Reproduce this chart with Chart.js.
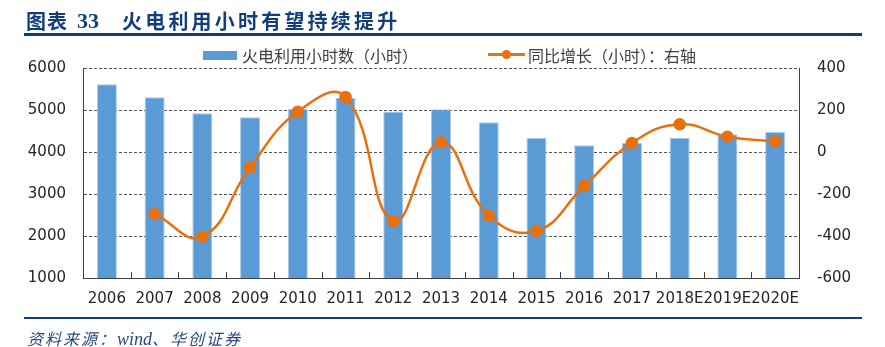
<!DOCTYPE html>
<html><head><meta charset="utf-8">
<script src="https://cdn.jsdelivr.net/npm/chart.js@4/dist/chart.umd.min.js"></script>
<style>
html,body{margin:0;padding:0;background:#fff;width:885px;height:347px;overflow:hidden;position:relative}
.abs{position:absolute;white-space:nowrap}
</style></head>
<body>
<canvas id="c" width="885" height="347" class="abs" style="left:0;top:0"></canvas>
<div class="abs" style="left:26px;top:11px;font:700 20px/20px 'Noto Sans CJK SC';color:#123f7c;letter-spacing:1px">图表</div>
<div class="abs" style="left:77px;top:10px;font:700 22px/22px 'Liberation Serif';color:#123f7c">33</div>
<div class="abs" style="left:122px;top:11px;font:700 20px/20px 'Noto Sans CJK SC';color:#123f7c;letter-spacing:3.2px">火电利用小时有望持续提升</div>
<div class="abs" style="left:24px;top:33px;width:838px;height:2.5px;background:#0d3f7f"></div>
<div class="abs" style="left:203px;top:51px;width:34px;height:9px;background:#5B9BD5"></div>
<div class="abs" style="left:242px;top:47px;font:400 16px/16px 'Noto Sans CJK SC';color:#404040">火电利用小时数（小时）</div>
<div class="abs" style="left:488px;top:53px;width:37px;height:2.5px;background:#E8700D"></div>
<div class="abs" style="left:501.5px;top:49.5px;width:9px;height:9px;border-radius:50%;background:#E8700D"></div>
<div class="abs" style="left:528px;top:47px;font:400 16px/16px 'Noto Sans CJK SC';color:#404040">同比增长（小时）：右轴</div>
<div class="abs" style="left:24px;top:316.5px;width:838px;height:2px;background:#0d3f7f"></div>
<div class="abs" style="left:27px;top:330px;font:italic 400 16px/16px 'Noto Sans CJK SC';color:#2a4a7f;letter-spacing:2px">资料来源：<span style="font-family:'Liberation Serif';font-size:18px;letter-spacing:0">wind</span>、华创证券</div>
<script>
const categories = ['2006','2007','2008','2009','2010','2011','2012','2013','2014','2015','2016','2017','2018E','2019E','2020E'];
const utilizationHours = [5612,5302,4920,4826,5030,5294,4965,5016,4710,4333,4162,4214,4335,4421,4476];
const yoyChange = [null,-295,-403,-73,192,262,-329,46,-303,-376,-162,43,132,73,51];
const leftTicks = [1000,2000,3000,4000,5000,6000];
const rightTicks = [-600,-400,-200,0,200,400];

Chart.defaults.font.family = "'DejaVu Sans'";
Chart.defaults.font.size = 15;
Chart.defaults.color = '#262626';

const innerTicks = {
  id:'innerTicks',
  afterDraw(chart){
    const x = chart.scales.x, ctx = chart.ctx, b = chart.chartArea.bottom;
    ctx.save();
    ctx.strokeStyle = '#404040'; ctx.lineWidth = 1;
    ctx.beginPath();
    for(let i=1;i<categories.length;i++){
      const px = Math.round(x.getPixelForValue(i-0.5))+0.5;
      ctx.moveTo(px,b); ctx.lineTo(px,b-6);
    }
    ctx.stroke();
    ctx.restore();
  }
};

new Chart(document.getElementById('c'),{
  type:'bar',
  data:{
    labels:categories,
    datasets:[
      {type:'line',label:'同比增长（小时）：右轴',data:yoyChange,yAxisID:'y1',order:0,
       borderColor:'#E8700D',backgroundColor:'#E8700D',borderWidth:2.5,
       pointRadius:5,pointHoverRadius:5,pointBackgroundColor:'#E8700D',pointBorderColor:'#E8700D',
       tension:0.45,spanGaps:true},
      {type:'bar',label:'火电利用小时数（小时）',data:utilizationHours,yAxisID:'y',order:1,
       backgroundColor:'#5B9BD5',borderColor:'#A9CBEA',borderWidth:1,
       barPercentage:0.42,categoryPercentage:1}
    ]
  },
  options:{
    responsive:false,animation:false,devicePixelRatio:1,
    layout:{padding:{top:68,left:0,right:0,bottom:0}},
    plugins:{legend:{display:false},tooltip:{enabled:false}},
    scales:{
      x:{offset:true,grid:{display:false,drawTicks:false},
         border:{display:true,color:'#404040',width:1},
         ticks:{padding:12,autoSkip:false,maxRotation:0,minRotation:0},
         afterFit(s){s.height=69;}},
      y:{position:'left',min:1000,max:6000,
         afterBuildTicks(s){s.ticks=leftTicks.map(v=>({value:v}));},
         grid:{color:'#555555',lineWidth:1,drawTicks:false},
         border:{display:true,color:'#404040',width:1,dash:[3,2]},
         ticks:{padding:17,callback:v=>String(v)},
         afterFit(s){s.width=83;}},
      y1:{position:'right',min:-600,max:400,
         afterBuildTicks(s){s.ticks=rightTicks.map(v=>({value:v}));},
         grid:{drawOnChartArea:false,drawTicks:false},
         border:{display:true,color:'#404040',width:1},
         ticks:{padding:18,callback:v=>String(v)},
         afterFit(s){s.width=86;}}
    }
  },
  plugins:[innerTicks]
});
</script>
</body></html>
